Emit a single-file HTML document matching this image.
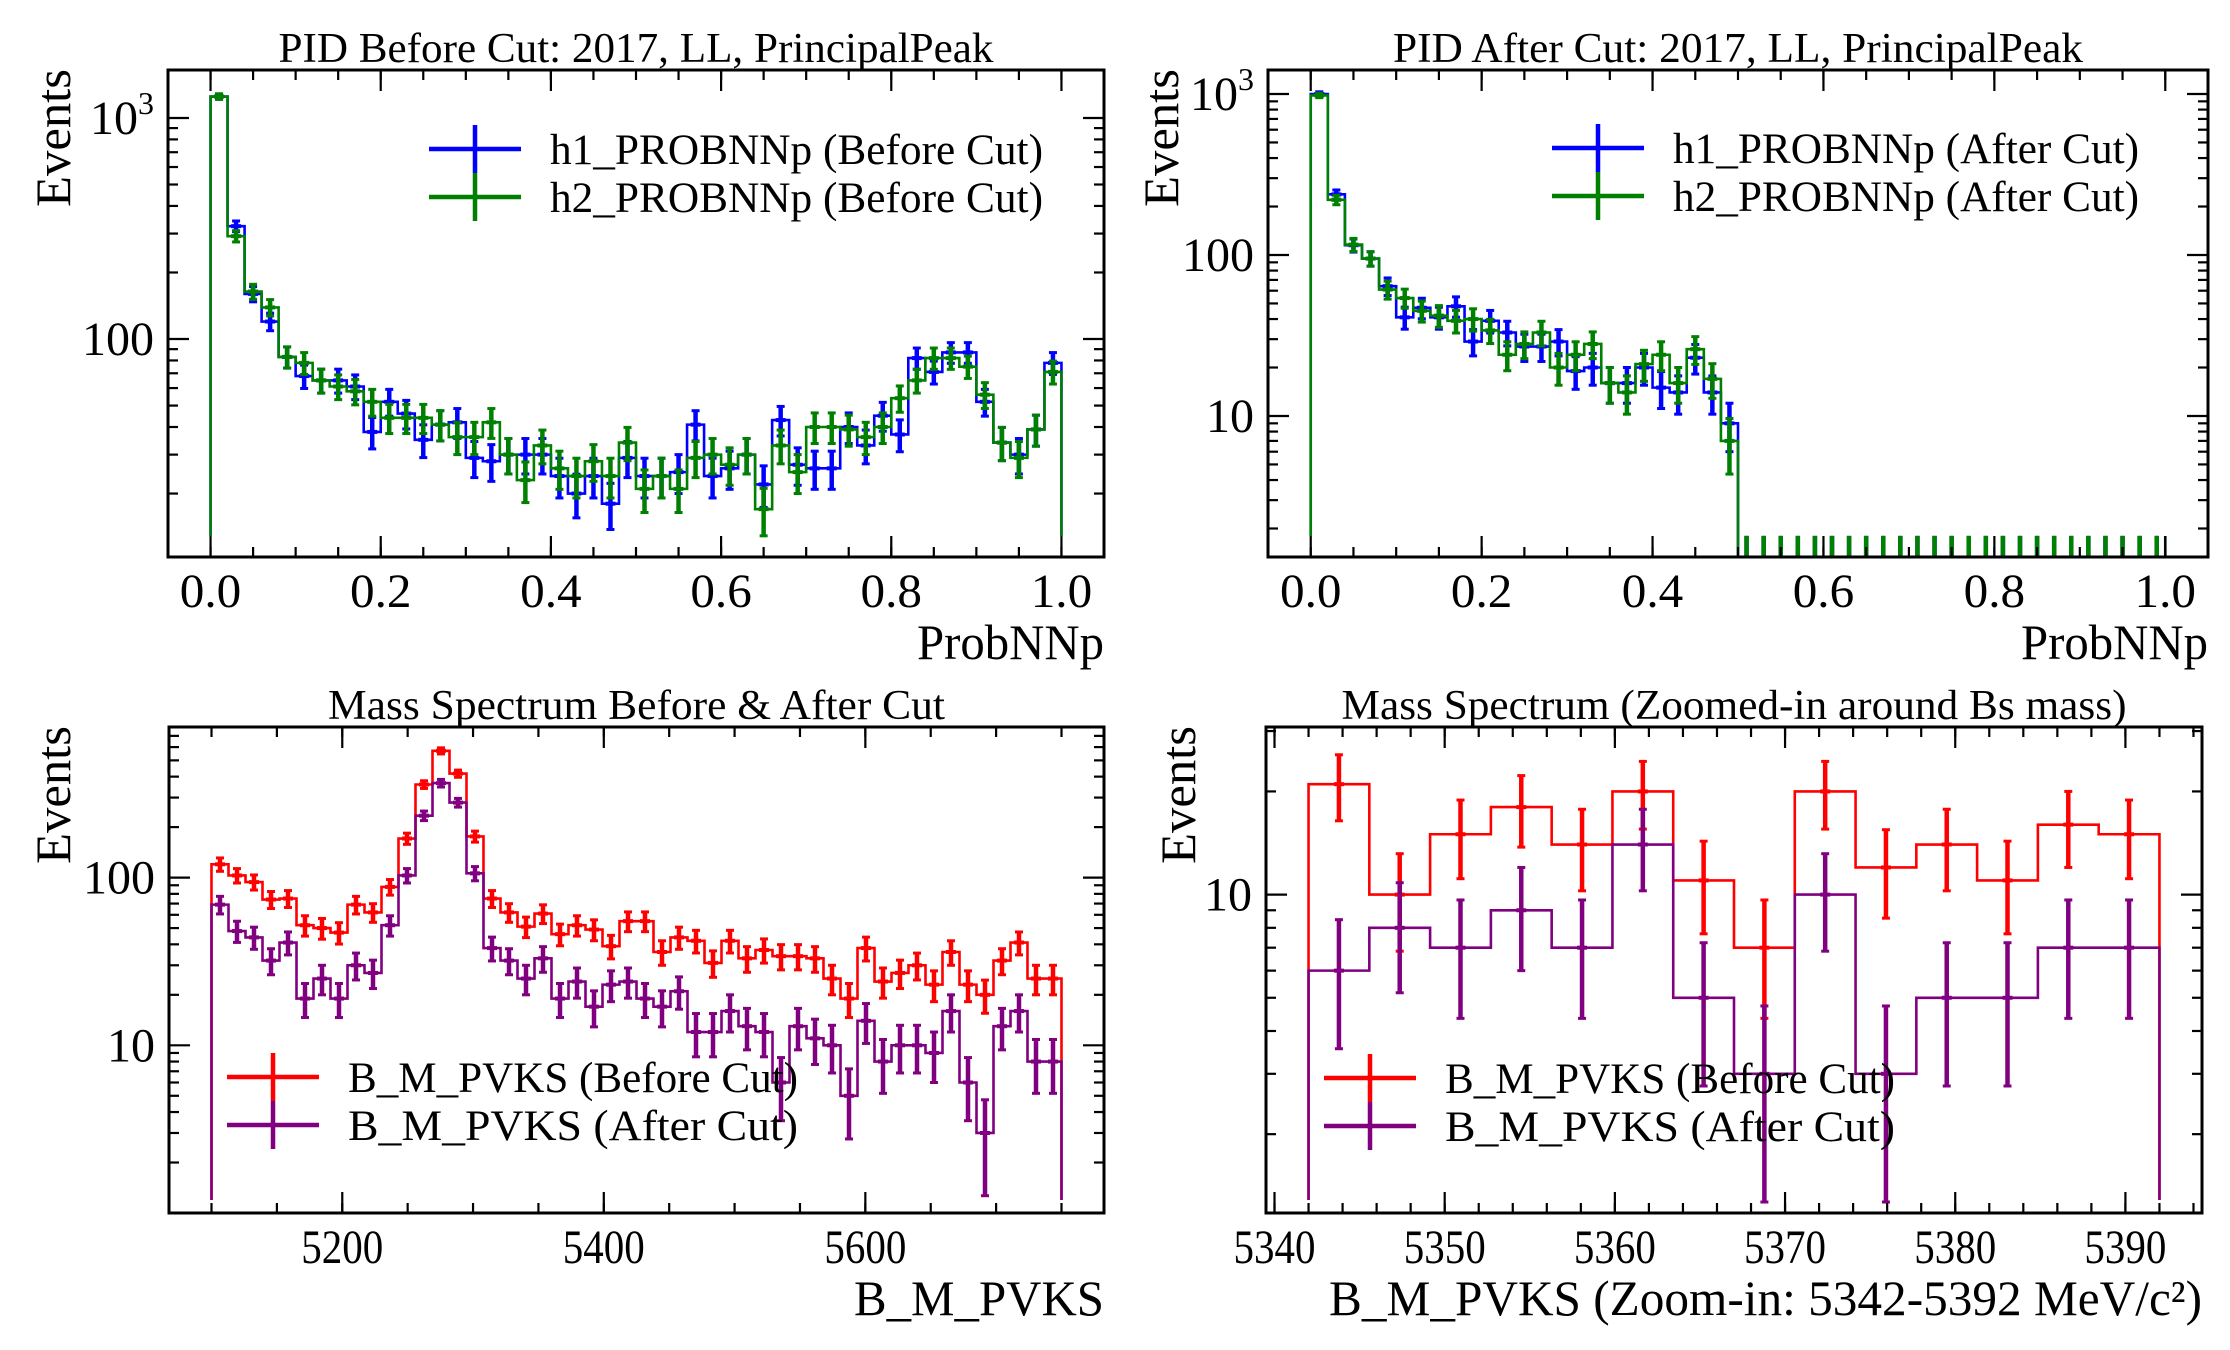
<!DOCTYPE html>
<html><head><meta charset="utf-8">
<style>
html,body{margin:0;padding:0;background:#fff;}
svg{display:block;font-family:"Liberation Serif","DejaVu Serif",serif;}
</style></head>
<body>
<svg id="fig" width="2230" height="1350" viewBox="0 0 2230 1350" xmlns="http://www.w3.org/2000/svg">
<rect width="2230" height="1350" fill="#fff"/>
</svg>
<script>
// ---- Panel 1 data (PID before cut) ----
const p1Edges0 = 0, p1BinW = 0.02;
const p1H1 = [1250,324,160,120,83,68,65,65,61,38,52,46,35,41,42,29,28,30,30,30,24,20,24,18,29,24,24,25,41,24,26,30,22,43,27,26,26,40,33,45,37,82,71,87,87,52,34,30,39,78];
const p1H2 = [1250,292,164,139,83,78,65,61,58,52,44,44,44,41,36,36,42,30,23,33,26,24,28,24,34,21,24,21,29,30,27,30,17,33,25,40,40,39,36,40,54,65,82,82,75,56,34,29,39,71];
// ---- Panel 2 data (PID after cut) ----
const p2H1 = [1000,238,115,95,64,41,47,41,48,29,39,33,27,27,29,19,20,16,16,20,15,14,23,14,9,0,0,0,0,0,0,0,0,0,0,0,0,0,0,0,0,0,0,0,0,0,0,0,0,0];
const p2H2 = [980,220,116,95,61,54,45,42,39,40,34,24,28,33,20,24,28,16,14,21,24,16,26,17,7,0,0,0,0,0,0,0,0,0,0,0,0,0,0,0,0,0,0,0,0,0,0,0,0,0];
// ---- Panel 3 data (mass spectrum) ----
const p3Start = 5100, p3BinW = 13;
const p3Before = [120,103,94,74,75,52,50,47,69,62,88,171,359,570,417,176,75,62,51,61,46,52,49,39,55,55,36,44,42,31,42,33,37,34,34,33,25,19,38,24,27,30,23,36,23,20,32,41,25,25];
const p3After = [69,48,44,32,41,19,25,19,30,27,52,103,234,366,280,106,38,32,25,33,19,24,17,23,24,19,17,21,12,12,16,13,12,6,13,11,10,5,14,8,10,10,9,16,6,3,13,16,8,8];
// ---- Panel 4 data (zoomed mass) ----
const p4Start = 5342, p4BinW = 50/14;
const p4Before = [21,10,15,18,14,20,11,7,20,12,14,11,16,15];
const p4After = [6,8,7,9,7,14,5,3,10,3,5,5,7,7];
// tick labels
const p1XTicks = [0,0.2,0.4,0.6,0.8,1.0];
const p1XTickLabels = ["0.0","0.2","0.4","0.6","0.8","1.0"];
const p3XTicks = [5200,5400,5600];
const p4XTicks = [5340,5350,5360,5370,5380,5390];

const NS = "http://www.w3.org/2000/svg";
const svg = document.getElementById('fig');
function el(tag, attrs, parent){
  const e = document.createElementNS(NS, tag);
  for (const k in attrs) e.setAttribute(k, attrs[k]);
  (parent||svg).appendChild(e);
  return e;
}

function panel(cfg){
  const g = el('g', {});
  
  
  const {x0,x1,y0,y1,xmin,xmax,lmin,lmax} = cfg;
  const sx = v => x0 + (v - xmin) / (xmax - xmin) * (x1 - x0);
  const sy = v => y1 - (Math.log10(v) - lmin) / (lmax - lmin) * (y1 - y0);
  const clip = 'clip-' + cfg.name;
  const cp = el('clipPath', {id: clip}, g);
  el('rect', {x:x0, y:y0, width:x1-x0, height:y1-y0}, cp);
  const plot = el('g', {'clip-path': 'url(#' + clip + ')'}, g);
  const baseY = y1 - cfg.baseOff;

  cfg.series.forEach(s => {
    const sg = el('g', {}, plot);
    
    
    let d = '';
    const n = s.vals.length;
    let started = false;
    for (let i = 0; i < n; i++) {
      const xa = sx(cfg.start + i * cfg.bw), xb = sx(cfg.start + (i + 1) * cfg.bw);
      const yv = s.vals[i] > 0 ? sy(s.vals[i]) : y1 + 20;
      if (!started) { d += 'M' + xa + ' ' + baseY + ' L' + xa + ' ' + yv; started = true; }
      else d += ' L' + xa + ' ' + yv;
      d += ' L' + xb + ' ' + yv;
      if (i === n - 1) d += ' L' + xb + ' ' + baseY;
    }
    const path = el('path', {d: d, fill: 'none', stroke: s.color, 'stroke-width': 2.6}, sg);
    
    
    for (let i = 0; i < n; i++) {
      const v = s.vals[i];
      const xc = sx(cfg.start + (i + 0.5) * cfg.bw);
      let ya, yb;
      if (v > 0) {
        const e = Math.sqrt(v);
        ya = sy(v + e); yb = (v - e) > 0 ? sy(v - e) : y1 + 5;
      } else {
        if (!cfg.zeroErr) continue;
        ya = sy(cfg.zeroErr); yb = y1 + 5;
      }
      const bar = el('line', {x1: xc, x2: xc, y1: ya, y2: yb, stroke: s.color, 'stroke-width': 4.5}, sg);
      
      
      if (v > 0) {
        el('line', {x1: xc-4, x2: xc+4, y1: ya, y2: ya, stroke: s.color, 'stroke-width': 3}, sg);
        el('line', {x1: xc-4, x2: xc+4, y1: yb, y2: yb, stroke: s.color, 'stroke-width': 3}, sg);
        el('line', {x1: xc-5, x2: xc+5, y1: sy(v), y2: sy(v), stroke: s.color, 'stroke-width': 4}, sg);
      }
    }
  });

  const tg = el('g', {stroke: '#000', 'stroke-width': 2.2}, g);
  
  
  for (let v = cfg.xMinorStart; v <= xmax + 1e-9; v += cfg.xMinor) {
    if (v < xmin) continue;
    const x = sx(v);
    el('line', {x1:x, x2:x, y1:y1, y2:y1-10}, tg);
    el('line', {x1:x, x2:x, y1:y0, y2:y0+10}, tg);
  }
  cfg.xTicks.forEach((v, i) => {
    const x = sx(v);
    el('line', {x1:x, x2:x, y1:y1, y2:y1-21}, tg);
    el('line', {x1:x, x2:x, y1:y0, y2:y0+21}, tg);
    const lab = cfg.xTickLabels[i];
    const t = el('text', {x:x, y:y1+50, 'font-size':48, 'text-anchor':'middle', fill:'#000', textLength: lab.length * 20.5, lengthAdjust:'spacingAndGlyphs'}, g);
    t.textContent = lab;
    
    
  });
  for (let dec = Math.floor(lmin); dec <= Math.ceil(lmax); dec++) {
    for (let m = 1; m <= 9; m++) {
      const v = m * Math.pow(10, dec);
      const lv = Math.log10(v);
      if (lv < lmin || lv > lmax) continue;
      const y = sy(v);
      const len = m === 1 ? 21 : 10;
      el('line', {x1:x0, x2:x0+len, y1:y, y2:y}, tg);
      el('line', {x1:x1, x2:x1-len, y1:y, y2:y}, tg);
    }
  }
  cfg.yTicks.forEach(tk => {
    const y = sy(tk.v);
    const t = el('text', {x:x0-14, y:y+16, 'font-size':48, 'text-anchor':'end', fill:'#000'}, g);
    
    
    if (tk.sup) {
      const a = el('tspan', {}, t); a.textContent = '10';
      const b = el('tspan', {dy:-20, 'font-size':32}, t); b.textContent = tk.sup;
    } else t.textContent = tk.l;
  });
  const fr = el('rect', {x:x0, y:y0, width:x1-x0, height:y1-y0, fill:'none', stroke:'#000', 'stroke-width':3}, g);
  
  
  const ti = el('text', {x:(x0+x1)/2, y:y0-8, 'font-size':42, 'text-anchor':'middle', fill:'#000', textLength:cfg.titleW, lengthAdjust:'spacingAndGlyphs'}, g);
  ti.textContent = cfg.title;
  
  
  const xl = el('text', {x:x1, y:y1+102, 'font-size':50, 'text-anchor':'end', fill:'#000', textLength:cfg.xlabW, lengthAdjust:'spacingAndGlyphs'}, g);
  xl.textContent = cfg.xlabel;
  
  
  const yl = el('text', {x:0, y:0, 'font-size':50, 'text-anchor':'end', fill:'#000', textLength:138, lengthAdjust:'spacingAndGlyphs', transform:'translate(' + cfg.ylabX + ',' + (y0-1) + ') rotate(-90)'}, g);
  yl.textContent = 'Events';
  
  
  const lg = el('g', {}, g);
  
  
  cfg.series.forEach((s, i) => {
    const ly = cfg.legY + i * 48;
    const lx = cfg.legX;
    const ent = el('g', {}, lg);
    
    
    el('line', {x1:lx, x2:lx+92, y1:ly, y2:ly, stroke:s.color, 'stroke-width':4.5}, ent);
    el('line', {x1:lx+46, x2:lx+46, y1:ly-24, y2:ly+24, stroke:s.color, 'stroke-width':4.5}, ent);
    const t = el('text', {x:lx+121, y:ly+15, 'font-size':43, fill:'#000', textLength:cfg.legW, lengthAdjust:'spacingAndGlyphs'}, ent);
    t.textContent = s.label;
  });
}

panel({name:'pid-before-panel', x0:168, x1:1104, y0:70, y1:557, xmin:-0.05, xmax:1.05, lmin:1.014, lmax:3.217,
  start:p1Edges0, bw:p1BinW, baseOff:21, xMinor:0.05, xMinorStart:0, xTicks:p1XTicks, xTickLabels:p1XTickLabels,
  yTicks:[{v:1000, sup:'3'},{v:100, l:'100'}], title:'PID Before Cut: 2017, LL, PrincipalPeak', titleW:715,
  xlabel:'ProbNNp', xlabW:187, ylabX:70, legX:429, legY:149, legW:493,
  series:[{name:'h1-before-series', vals:p1H1, color:'#0000ff', label:'h1_PROBNNp (Before Cut)'},
          {name:'h2-before-series', vals:p1H2, color:'#008000', label:'h2_PROBNNp (Before Cut)'}]});

panel({name:'pid-after-panel', x0:1268, x1:2208, y0:70, y1:557, xmin:-0.05, xmax:1.05, lmin:0.124, lmax:3.149,
  start:0, bw:0.02, baseOff:21, zeroErr:1.8, xMinor:0.05, xMinorStart:0, xTicks:p1XTicks, xTickLabels:p1XTickLabels,
  yTicks:[{v:1000, sup:'3'},{v:100, l:'100'},{v:10, l:'10'}], title:'PID After Cut: 2017, LL, PrincipalPeak', titleW:690,
  xlabel:'ProbNNp', xlabW:187, ylabX:1178, legX:1552, legY:148, legW:466,
  series:[{name:'h1-after-series', vals:p2H1, color:'#0000ff', label:'h1_PROBNNp (After Cut)'},
          {name:'h2-after-series', vals:p2H2, color:'#008000', label:'h2_PROBNNp (After Cut)'}]});

panel({name:'mass-panel', x0:169, x1:1104, y0:727, y1:1213, xmin:5067.5, xmax:5782.5, lmin:0.0, lmax:2.898,
  start:p3Start, bw:p3BinW, baseOff:13, xMinor:50, xMinorStart:5100, xTicks:p3XTicks, xTickLabels:p3XTicks.map(String),
  yTicks:[{v:100, l:'100'},{v:10, l:'10'}], title:'Mass Spectrum Before & After Cut', titleW:617,
  xlabel:'B_M_PVKS', xlabW:250, ylabX:70, legX:227, legY:1077, legW:450,
  series:[{name:'mass-before-series', vals:p3Before, color:'#ff0000', label:'B_M_PVKS (Before Cut)'},
          {name:'mass-after-series', vals:p3After, color:'#800080', label:'B_M_PVKS (After Cut)'}]});

panel({name:'mass-zoom-panel', x0:1266, x1:2202, y0:727, y1:1213, xmin:5339.5, xmax:5394.5, lmin:0.071, lmax:1.489,
  start:p4Start, bw:p4BinW, baseOff:13, xMinor:2, xMinorStart:5340, xTicks:p4XTicks, xTickLabels:p4XTicks.map(String),
  yTicks:[{v:10, l:'10'}], title:'Mass Spectrum (Zoomed-in around Bs mass)', titleW:785,
  xlabel:'B_M_PVKS (Zoom-in: 5342-5392 MeV/c²)', xlabW:873, ylabX:1195, legX:1324, legY:1078, legW:450,
  series:[{name:'zoom-before-series', vals:p4Before, color:'#ff0000', label:'B_M_PVKS (Before Cut)'},
          {name:'zoom-after-series', vals:p4After, color:'#800080', label:'B_M_PVKS (After Cut)'}]});
</script>
</body></html>
